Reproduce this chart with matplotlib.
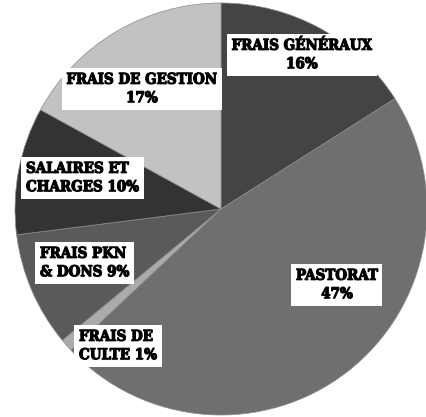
import matplotlib
matplotlib.use("Agg")
import matplotlib.pyplot as plt
import matplotlib.patheffects as pe

categories = ["FRAIS GÉNÉRAUX", "PASTORAT", "FRAIS DE CULTE", "FRAIS PKN & DONS",
              "SALAIRES ET CHARGES", "FRAIS DE GESTION"]
values = [16, 47, 1, 9, 10, 17]
label_texts = ["FRAIS GÉNÉRAUX\n16%", "PASTORAT\n47%", "FRAIS DE\nCULTE 1%",
               "FRAIS PKN\n& DONS 9%", "SALAIRES ET\nCHARGES 10%", "FRAIS DE GESTION\n17%"]
colors = ["#444444", "#6f6f6f", "#ababab", "#5a5a5a", "#333333", "#c2c2c2"]

W, H = 427, 417
fig = plt.figure(figsize=(W / 100, H / 100), dpi=100)
ax = fig.add_axes([0, 0, 1, 1])

cx, cy, r = 221, H - 209, 206
ax.pie(values, colors=colors, startangle=90, counterclock=False,
       center=(cx, cy), radius=r, frame=True,
       wedgeprops=dict(linewidth=0.5, edgecolor="#8a8a8a"))
ax.set_xlim(0, W)
ax.set_ylim(0, H)
ax.set_aspect("equal")
ax.axis("off")

# label positions (pixel coords, y from top) and alignment
label_pos = [(302, 55, "center"), (337, 285, "center"), (79, 346, "left"),
             (40, 263, "left"), (26, 178, "left"), (142, 89, "center")]

for txt, (x, y, ha) in zip(label_texts, label_pos):
    ax.text(x, H - y, txt, ha=ha, va="center", multialignment=ha,
            fontsize=10.8, fontweight="bold", family=["DejaVu Serif", "Liberation Serif"],
            fontstretch="condensed",
            color="black", linespacing=1.4,
            path_effects=[pe.withStroke(linewidth=0.8, foreground="black")],
            bbox=dict(boxstyle="square,pad=0.3", fc="white", ec="none"))

fig.savefig("out.png", dpi=100, facecolor="white")
